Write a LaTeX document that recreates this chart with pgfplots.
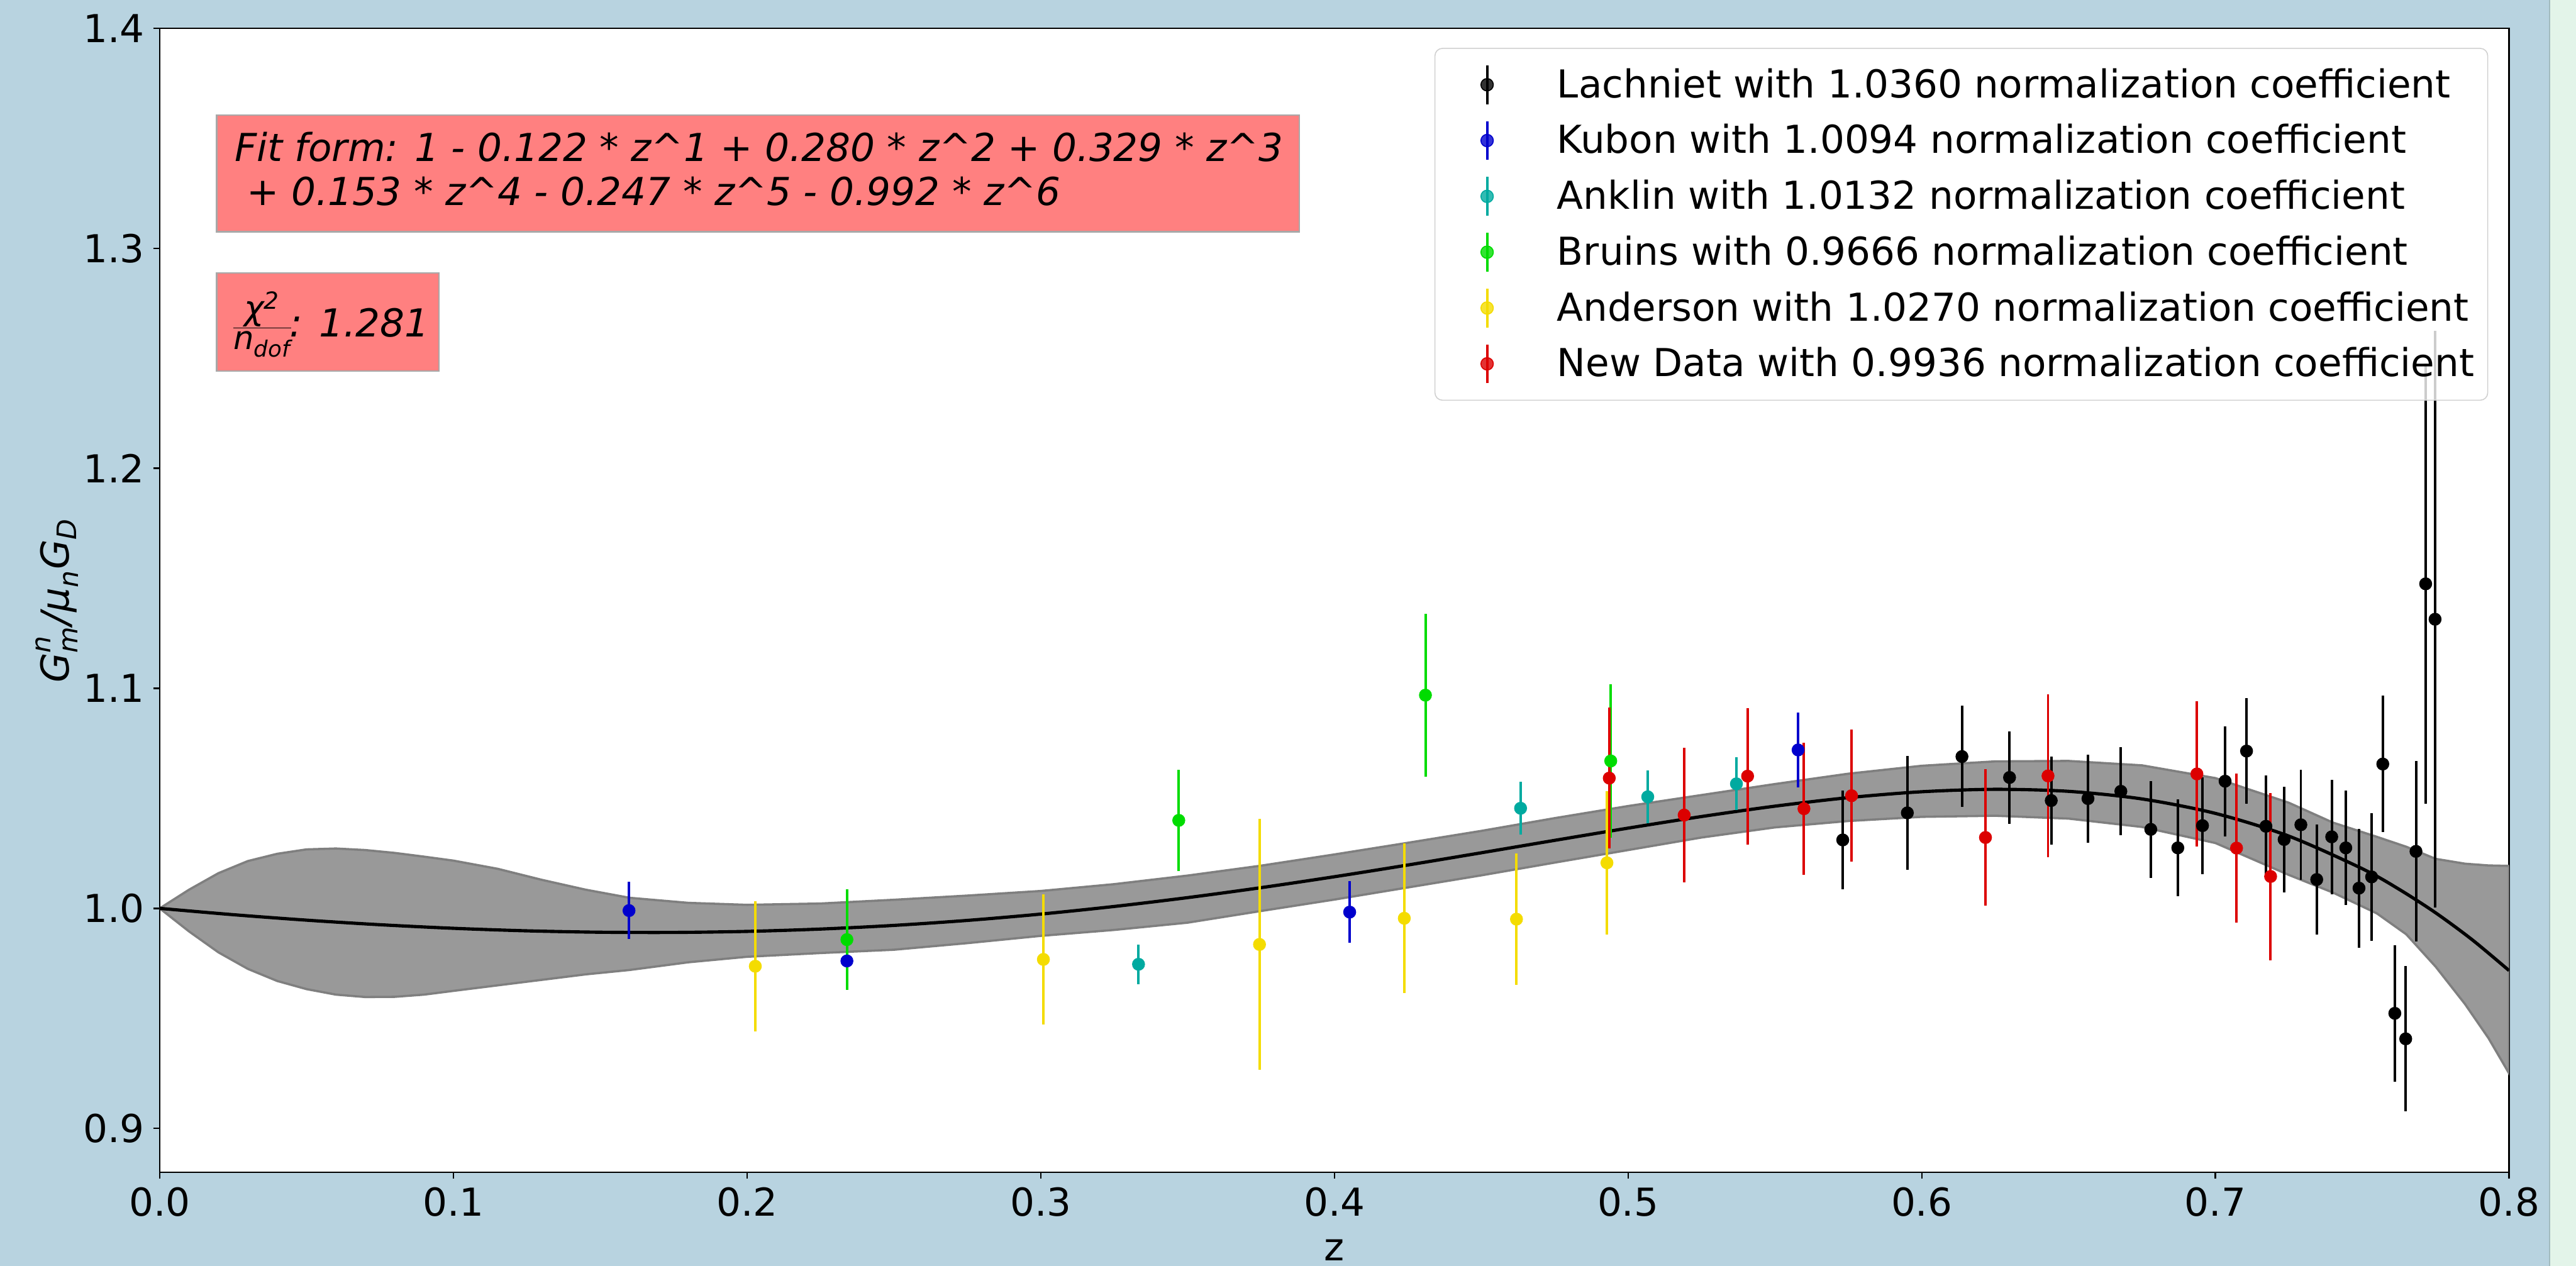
\documentclass[border=0pt]{standalone}
\usepackage{fontspec}
\setmainfont{DejaVu Sans}
\usepackage{pgfplots}
\pgfplotsset{compat=1.18}

\definecolor{bgblue}{HTML}{B8D3E0}
\definecolor{bggreen}{HTML}{E3F4E9}
\definecolor{stripline}{HTML}{A3BBBE}
\definecolor{kubon}{HTML}{0000CD}
\definecolor{anklin}{HTML}{00AAA0}
\definecolor{bruins}{HTML}{00DC00}
\definecolor{anderson}{HTML}{F4DC00}
\definecolor{newdata}{HTML}{DC0000}
\definecolor{bandfill}{HTML}{999999}
\definecolor{bandedge}{HTML}{7F7F7F}
\definecolor{boxred}{HTML}{FF8080}
\definecolor{boxedge}{HTML}{A8A8A8}
\definecolor{legedge}{HTML}{D0D0D0}

\newcommand{\fs}{\fontsize{15.5}{18.6}\selectfont}
\newcommand{\sm}[1]{\mbox{\fontsize{10.8}{12}\selectfont\itshape #1}}

\pgfplotsset{
  datapts/.style={only marks, mark=*, mark size=2.4pt, color=#1,
    mark options={fill=#1, draw=none},
    error bars/.cd, y dir=both, y explicit, error mark=none,
    error bar style={line width=1pt, color=#1},
    /pgfplots/legend image code/.code={
      \path[draw=none, fill=none] (-17.6pt,0pt) rectangle (26.2pt,0.1pt);
      \draw[#1, line width=1pt] (0pt,-7.8pt) -- (0pt,7.8pt);
      \fill[#1] (0pt,0pt) circle (2.5pt);}},
}

% measured values: z, G/mu G_D, error
\pgfplotstableread{
x y e
0.5731 1.0311 0.0225
0.5951 1.0434 0.026
0.6137 1.0690 0.023
0.6299 1.0595 0.021
0.6441 1.0490 0.020
0.6566 1.0499 0.020
0.6678 1.0532 0.020
0.6780 1.0359 0.022
0.6872 1.0275 0.022
0.6956 1.0376 0.022
0.7033 1.0578 0.025
0.7106 1.0715 0.024
0.7172 1.0373 0.023
0.7234 1.0313 0.024
0.7291 1.0380 0.025
0.7345 1.0131 0.025
0.7396 1.0325 0.026
0.7444 1.0275 0.026
0.7489 1.0092 0.027
0.7532 1.0143 0.029
0.7570 1.0656 0.031
0.7611 0.9523 0.031
0.7648 0.9407 0.033
0.7683 1.0259 0.041
0.7716 1.1475 0.100
0.7748 1.1314 0.131
}\lachniet
\pgfplotstableread{
x y e
0.1598 0.9990 0.013
0.2340 0.9761 0.008
0.4052 0.9983 0.014
0.5579 1.0720 0.017
}\kubondat
\pgfplotstableread{
x y e
0.3333 0.9746 0.009
0.4634 1.0455 0.012
0.5067 1.0507 0.012
0.5369 1.0566 0.012
}\anklindat
\pgfplotstableread{
x y e
0.2340 0.9858 0.023
0.3470 1.0400 0.023
0.4310 1.0969 0.037
0.4941 1.0670 0.035
}\bruinsdat
\pgfplotstableread{
x y e
0.2028 0.9737 0.0295
0.3009 0.9768 0.0295
0.3745 0.9836 0.057
0.4238 0.9955 0.034
0.4620 0.9951 0.030
0.4928 1.0207 0.0326
}\andersondat
\pgfplotstableread{
x y e
0.4936 1.0592 0.032
0.5191 1.0424 0.0305
0.5407 1.0601 0.031
0.5599 1.0453 0.030
0.5761 1.0512 0.030
0.6217 1.0322 0.031
0.6430 1.0602 0.037
0.6937 1.0611 0.033
0.7072 1.0274 0.034
0.7188 1.0145 0.038
}\newdat

% fitted curve
\pgfplotstableread{
x y
0.000 1.000000
0.025 0.997130
0.050 0.994642
0.075 0.992568
0.100 0.990941
0.125 0.989794
0.150 0.989158
0.175 0.989063
0.200 0.989534
0.225 0.990594
0.250 0.992255
0.275 0.994525
0.300 0.997399
0.325 1.000861
0.350 1.004881
0.375 1.009410
0.400 1.014380
0.425 1.019702
0.450 1.025259
0.475 1.030907
0.500 1.036469
0.525 1.041733
0.550 1.046446
0.575 1.050318
0.600 1.053003
0.625 1.054109
0.650 1.053189
0.675 1.049730
0.700 1.043161
0.725 1.032838
0.750 1.018038
0.7625 1.008714
0.775 0.997966
0.7875 0.985678
0.800 0.971733
}\fitcurve

% uncertainty band outline: upper edge, then lower edge backwards
\pgfplotstableread{
x y
0.000 1.0000
0.010 1.0085
0.020 1.0160
0.030 1.0215
0.040 1.0248
0.050 1.0268
0.060 1.0272
0.070 1.0265
0.080 1.0252
0.090 1.0235
0.100 1.0217
0.115 1.0180
0.130 1.0130
0.145 1.0085
0.160 1.0048
0.180 1.0025
0.200 1.0016
0.225 1.0022
0.250 1.0039
0.275 1.0058
0.300 1.0079
0.325 1.0110
0.350 1.0149
0.375 1.0194
0.400 1.0245
0.425 1.0298
0.450 1.0352
0.475 1.0410
0.500 1.0465
0.525 1.0515
0.550 1.0565
0.575 1.0612
0.600 1.0648
0.625 1.0668
0.650 1.0670
0.675 1.0650
0.700 1.0592
0.725 1.0480
0.740 1.0390
0.755 1.0325
0.765 1.0280
0.775 1.0225
0.785 1.0203
0.793 1.0195
0.800 1.0193
0.800 0.9250
0.793 0.9410
0.785 0.9565
0.775 0.9735
0.765 0.9882
0.755 0.9977
0.740 1.0072
0.725 1.0152
0.700 1.0297
0.675 1.0370
0.650 1.0408
0.625 1.0421
0.600 1.0416
0.575 1.0397
0.550 1.0368
0.525 1.0322
0.500 1.0265
0.475 1.0208
0.450 1.0150
0.425 1.0095
0.400 1.0040
0.375 0.9988
0.350 0.9935
0.325 0.9902
0.300 0.9875
0.275 0.9842
0.250 0.9812
0.225 0.9797
0.200 0.9780
0.180 0.9755
0.160 0.9720
0.145 0.9700
0.130 0.9675
0.115 0.9650
0.100 0.9625
0.090 0.9608
0.080 0.9598
0.070 0.9597
0.060 0.9608
0.050 0.9633
0.040 0.9670
0.030 0.9725
0.020 0.9800
0.010 0.9895
}\band

\begin{document}
\begin{tikzpicture}
\fill[bgblue] (-64.32pt,-37.68pt) rectangle (972.96pt,472.08pt);
\fill[bggreen] (962.2pt,-37.68pt) rectangle (972.96pt,472.08pt);
\draw[stripline, line width=0.5pt] (962.2pt,-37.68pt) -- (962.2pt,472.08pt);
\begin{axis}[
  scale only axis, width=946pt, height=460.7pt,
  xmin=0, xmax=0.8, ymin=0.88, ymax=1.4,
  xtick={0,0.1,0.2,0.3,0.4,0.5,0.6,0.7,0.8},
  ytick={0.9,1.0,1.1,1.2,1.3,1.4},
  axis background/.style={fill=white},
  axis line style={line width=0.6pt},
  tick align=outside, tick pos=left, major tick length=2.6pt,
  tick style={line width=0.6pt, black},
  ticklabel style={font=\fs},
  xticklabel style={/pgf/number format/.cd, fixed, fixed zerofill, precision=1, assume math mode=true},
  yticklabel style={/pgf/number format/.cd, fixed, fixed zerofill, precision=1, assume math mode=true},
  xlabel={z},
  xlabel style={font=\fs, at={(axis description cs:0.5,-0.068)}, anchor=center},
  ylabel={$\mbox{\itshape G}^{\sm{n}}_{\sm{m}}\mbox{\itshape /μ}_{\sm{n}}\mbox{\itshape G}_{\sm{D}}$},
  ylabel style={font=\fs, at={(axis description cs:-0.0437,0.5)}, anchor=center},
  legend cell align=left,
  legend style={at={(axis description cs:1,1)}, anchor=north east, xshift=-8.4pt, yshift=-7.9pt,
    draw=legedge, rounded corners=3pt, fill=white, fill opacity=0.8, text opacity=1,
    font=\fs, row sep=5.2pt, inner xsep=3.4pt, inner ysep=6pt},
]
\addplot[fill=bandfill, draw=bandedge, line width=0.9pt, forget plot] table {\band} -- cycle;
\addplot[black, line width=1.3pt, smooth, forget plot] table {\fitcurve};

\addplot[datapts=black] table[x=x, y=y, y error=e] {\lachniet};
\addlegendentry{Lachniet with 1.0360 normalization coefficient}
\addplot[datapts=kubon] table[x=x, y=y, y error=e] {\kubondat};
\addlegendentry{Kubon with 1.0094 normalization coefficient}
\addplot[datapts=anklin] table[x=x, y=y, y error=e] {\anklindat};
\addlegendentry{Anklin with 1.0132 normalization coefficient}
\addplot[datapts=bruins] table[x=x, y=y, y error=e] {\bruinsdat};
\addlegendentry{Bruins with 0.9666 normalization coefficient}
\addplot[datapts=anderson] table[x=x, y=y, y error=e] {\andersondat};
\addlegendentry{Anderson with 1.0270 normalization coefficient}
\addplot[datapts=newdata] table[x=x, y=y, y error=e] {\newdat};
\addlegendentry{New Data with 0.9936 normalization coefficient}

% annotation boxes
\node[fill=boxred, draw=boxedge, line width=0.6pt, anchor=north west, minimum width=436pt,
  minimum height=47pt, inner sep=0pt] at ([xshift=22.6pt, yshift=-34.6pt]rel axis cs:0,1) {};
\node[anchor=base west, inner sep=0pt, font=\fs\itshape] at ([xshift=30pt, yshift=-53.5pt]rel axis cs:0,1)
  {Fit form: 1 - 0.122 * z\textasciicircum 1 + 0.280 * z\textasciicircum 2 + 0.329 * z\textasciicircum 3};
\node[anchor=base west, inner sep=0pt, font=\fs\itshape] at ([xshift=30pt, yshift=-71.3pt]rel axis cs:0,1)
  {\ + 0.153 * z\textasciicircum 4 - 0.247 * z\textasciicircum 5 - 0.992 * z\textasciicircum 6};
\node[fill=boxred, draw=boxedge, line width=0.6pt, anchor=north west, minimum width=89.5pt,
  minimum height=39.5pt, inner sep=0pt] at ([xshift=22.6pt, yshift=-98.2pt]rel axis cs:0,1) {};
\node[anchor=base west, inner sep=0pt, font=\fs\itshape] at ([xshift=29.5pt, yshift=-124.3pt]rel axis cs:0,1)
  {\nulldelimiterspace=0pt$\frac{\mbox{\fontsize{13.5}{13.5}\selectfont\itshape χ}^{\mbox{\fontsize{9.5}{9.5}\selectfont 2}}}{\mbox{\fontsize{13}{13}\selectfont\itshape n}_{\mbox{\fontsize{9}{9}\selectfont\itshape dof}}}$\hspace{-0.5pt}: 1.281};
\end{axis}
\pgfresetboundingbox
\path[use as bounding box] (-64.32pt,-37.68pt) rectangle (972.96pt,472.08pt);
\end{tikzpicture}
\end{document}
